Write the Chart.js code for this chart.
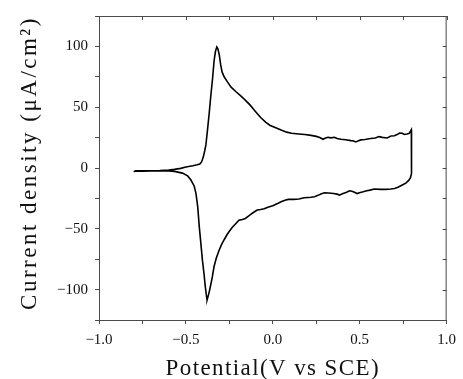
<!DOCTYPE html>
<html>
<head>
<meta charset="utf-8">
<script src="https://cdn.jsdelivr.net/npm/chart.js@4.4.1/dist/chart.umd.min.js"></script>
<style>
  html, body { margin: 0; padding: 0; background: #fff; }
  #box { width: 463px; height: 379px; }
</style>
</head>
<body>
<div id="box"><canvas id="cv"></canvas></div>
<script>
// Voltametria ciclica: varredura de ida (anodica) e de volta (catodica)
const forwardE = [-0.80, -0.79, -0.75, -0.70, -0.65, -0.60, -0.566, -0.53, -0.50, -0.46, -0.435, -0.42, -0.41, -0.40, -0.392, -0.385, -0.376, -0.366, -0.357, -0.347, -0.338, -0.330, -0.322, -0.316, -0.308, -0.300, -0.292, -0.28, -0.262, -0.24, -0.21, -0.186, -0.16, -0.129, -0.10, -0.07, -0.04, -0.015, 0.01, 0.051, 0.08, 0.108, 0.15, 0.184, 0.22, 0.25, 0.27, 0.289, 0.30, 0.317, 0.335, 0.354, 0.37, 0.392, 0.42, 0.449, 0.465, 0.478, 0.49, 0.506, 0.53, 0.563, 0.59, 0.611, 0.63, 0.658, 0.68, 0.70, 0.715, 0.73, 0.744, 0.758, 0.772, 0.785, 0.797];
const forwardI = [-3.2, -2.2, -2.2, -2.2, -2.0, -1.6, -1.1, -0.3, 0.8, 1.8, 2.6, 3.3, 5, 9, 14, 19, 31, 45, 59, 73, 88, 96, 99.5, 98, 93, 85, 79, 75, 71, 66.5, 62.5, 59.5, 56, 51.5, 46.5, 41.5, 37.5, 35, 33.5, 31, 29.5, 28.6, 28, 27.5, 26.8, 26, 25, 23.6, 24.5, 25.3, 24.8, 25.3, 24.2, 23.6, 23.2, 22.5, 22.2, 21.4, 22.3, 23.1, 23.4, 24.2, 24.6, 25.8, 25.2, 24.7, 26.3, 26.5, 27.5, 28.8, 28.6, 27.6, 28, 28.5, 31.5];

const reverseE = [0.798, 0.792, 0.783, 0.765, 0.745, 0.72, 0.70, 0.678, 0.65, 0.62, 0.583, 0.56, 0.54, 0.52, 0.498, 0.485, 0.47, 0.455, 0.441, 0.425, 0.40, 0.384, 0.37, 0.35, 0.32, 0.298, 0.28, 0.26, 0.24, 0.22, 0.203, 0.18, 0.15, 0.12, 0.089, 0.07, 0.051, 0.03, 0.0, -0.024, -0.05, -0.07, -0.09, -0.105, -0.12, -0.14, -0.158, -0.175, -0.195, -0.215, -0.234, -0.25, -0.262, -0.28, -0.295, -0.309, -0.325, -0.338, -0.348, -0.357, -0.366, -0.373, -0.378, -0.383, -0.389, -0.395, -0.405, -0.414, -0.423, -0.432, -0.442, -0.452, -0.471, -0.49, -0.52, -0.566, -0.60, -0.65, -0.70, -0.75, -0.80];
const reverseI = [-4.4, -8, -10, -12.5, -14, -15.8, -16.8, -17.3, -17.6, -17.6, -17.3, -18.2, -18.7, -19.5, -20.3, -21, -20, -19.2, -18.7, -20, -21.2, -22.3, -21.5, -21, -20.5, -20.3, -21.2, -22.5, -23.6, -24, -24.2, -24.5, -25.5, -25.8, -25.8, -26.5, -27.5, -29, -31, -32, -33.5, -34.2, -34.6, -36, -37.4, -39.5, -41.5, -42.3, -43, -46, -49, -52, -54.5, -59, -63, -67.6, -74, -81, -89.6, -96, -102, -106, -108.5, -104, -97, -88, -75.8, -62, -48.4, -32, -21, -15, -9.9, -6.5, -4.2, -2.8, -2.4, -2.3, -2.5, -2.7, -2.7];

const xTicksMajor = [-1.0, -0.5, 0.0, 0.5, 1.0];
const yTicksMajor = [-100, -50, 0, 50, 100];

const xTitle = "Potential(V vs SCE)";
const yTitle = "Current density (\u03BCA/cm\u00B2)";

const pontos = forwardE.map((e, k) => ({ x: e, y: forwardI[k] }))
    .concat(reverseE.map((e, k) => ({ x: e, y: reverseI[k] })));

const AXIS = '#4a4a4a';
const SERIF = "'Liberation Serif', 'DejaVu Serif', serif";

function menos(v) {
    return String(v).replace('-', '\u2212');
}

// moldura superior/direita com ticks para dentro + titulos dos eixos
const moldura = {
    id: 'moldura',
    afterDraw(chart) {
        const { ctx, chartArea: a, scales } = chart;
        ctx.save();
        ctx.strokeStyle = AXIS;
        ctx.lineWidth = 1;
        ctx.beginPath();
        ctx.moveTo(a.left, a.top + 0.5);
        ctx.lineTo(a.right, a.top + 0.5);
        ctx.moveTo(a.right - 0.5, a.top);
        ctx.lineTo(a.right - 0.5, a.bottom);
        scales.x.ticks.forEach(t => {
            const px = Math.round(scales.x.getPixelForValue(t.value)) + 0.5;
            ctx.moveTo(px, a.top);
            ctx.lineTo(px, a.top + 4);
        });
        scales.y.ticks.forEach(t => {
            const py = Math.round(scales.y.getPixelForValue(t.value)) + 0.5;
            ctx.moveTo(a.right, py);
            ctx.lineTo(a.right - 4, py);
        });
        ctx.stroke();

        ctx.fillStyle = '#111';
        ctx.font = '23px ' + SERIF;
        ctx.textAlign = 'center';
        ctx.textBaseline = 'alphabetic';
        ctx.letterSpacing = '1.4px';
        ctx.fillText(xTitle, (a.left + a.right) / 2, 375);

        ctx.letterSpacing = '2.5px';
        ctx.translate(36, 163);
        ctx.rotate(-Math.PI / 2);
        ctx.fillText(yTitle, 0, 0);
        ctx.restore();
    }
};

new Chart(document.getElementById('cv'), {
    type: 'scatter',
    data: {
        datasets: [{
            data: pontos,
            showLine: true,
            borderColor: '#000',
            borderWidth: 1.6,
            pointRadius: 0,
            tension: 0,
            fill: false
        }]
    },
    options: {
        responsive: true,
        maintainAspectRatio: false,
        animation: false,
        devicePixelRatio: 1,
        layout: { padding: { top: 15, right: 13, left: 0, bottom: 0 } },
        plugins: {
            legend: { display: false },
            tooltip: { enabled: false }
        },
        scales: {
            x: {
                type: 'linear',
                min: -1, max: 1,
                afterFit(s) { s.height = 59; },
                border: { color: AXIS, width: 1 },
                grid: { drawOnChartArea: false, drawTicks: true, tickLength: 4, color: AXIS },
                ticks: {
                    stepSize: 0.25,
                    maxRotation: 0,
                    autoSkip: false,
                    padding: 7,
                    color: '#111',
                    font: { family: SERIF, size: 15 },
                    callback: (v) => xTicksMajor.some(m => Math.abs(m - v) < 1e-6) ? menos(v.toFixed(1)) : ''
                }
            },
            y: {
                type: 'linear',
                min: -125, max: 125,
                afterFit(s) { s.width = 99; },
                border: { color: AXIS, width: 1 },
                grid: { drawOnChartArea: false, drawTicks: true, tickLength: 4, color: AXIS },
                ticks: {
                    stepSize: 25,
                    autoSkip: false,
                    padding: 7,
                    color: '#111',
                    font: { family: SERIF, size: 15 },
                    callback: (v) => yTicksMajor.includes(v) ? menos(v) : ''
                }
            }
        }
    },
    plugins: [moldura]
});
</script>
</body>
</html>
